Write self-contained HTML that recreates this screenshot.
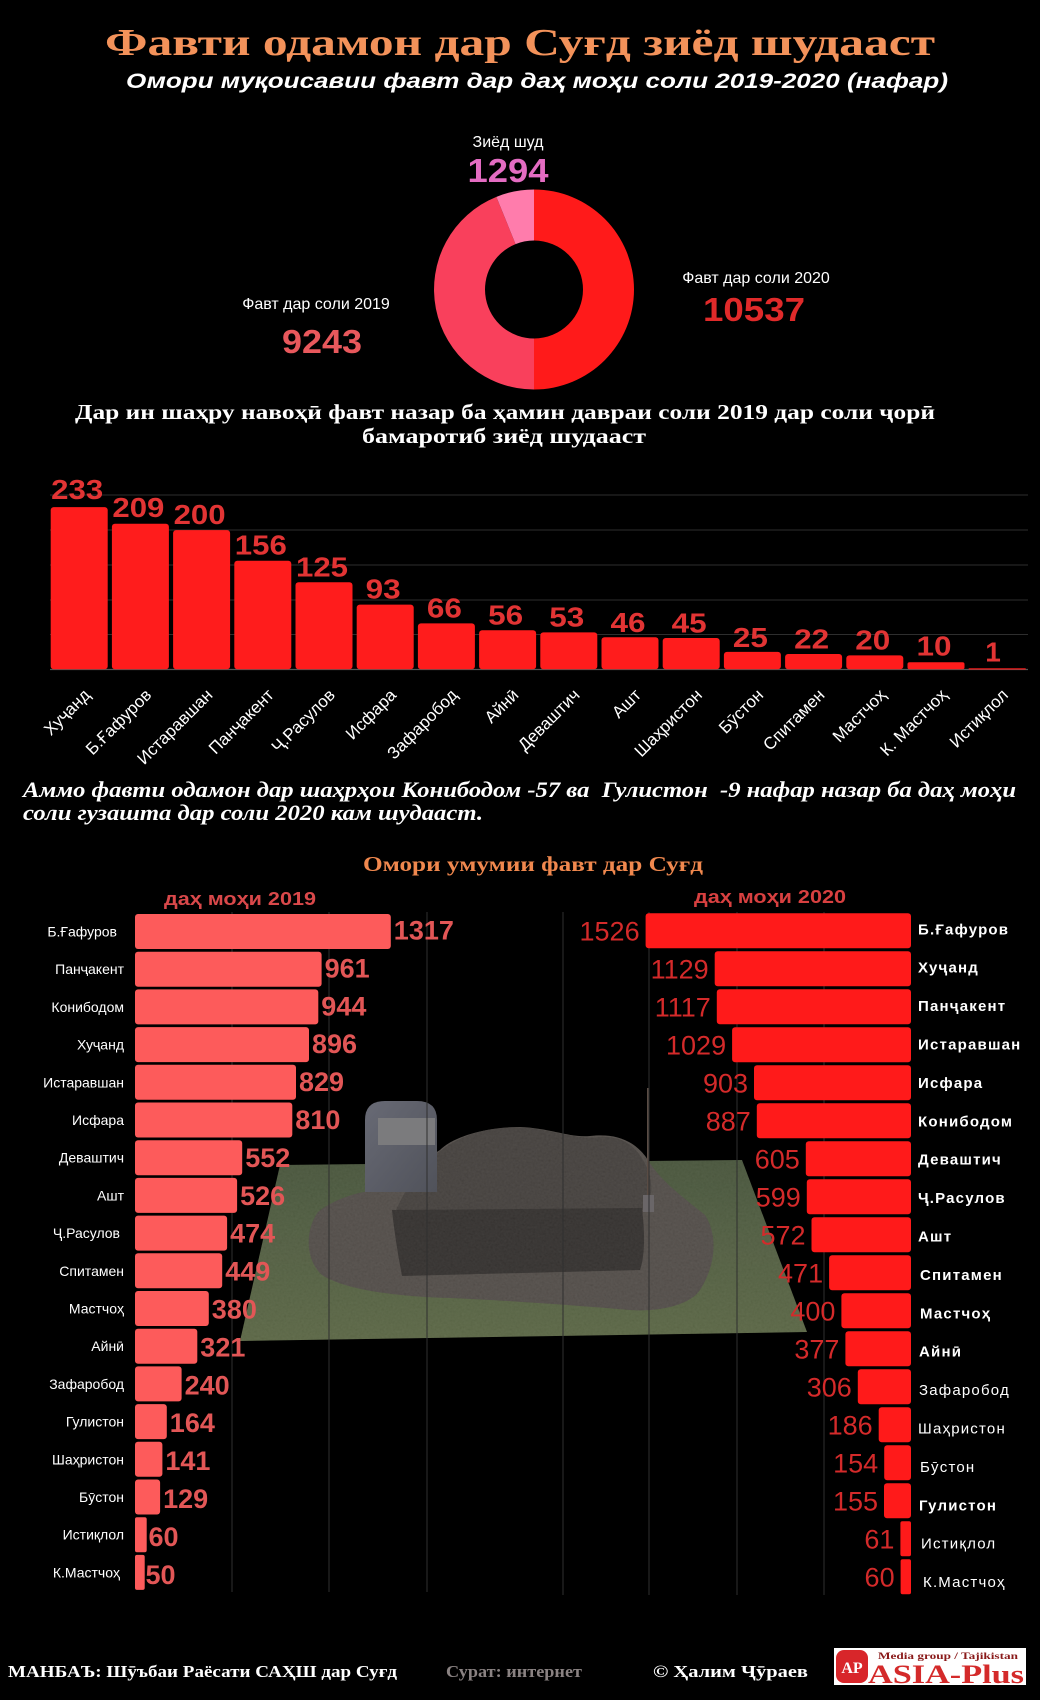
<!DOCTYPE html>
<html>
<head>
<meta charset="utf-8">
<style>
html,body{margin:0;padding:0;background:#000;}
svg{display:block}
.sans{font-family:"Liberation Sans","DejaVu Sans",sans-serif;}
.serif{font-family:"Liberation Serif","DejaVu Serif",serif;}
</style>
</head>
<body>
<svg width="1040" height="1700" viewBox="0 0 1040 1700" xmlns="http://www.w3.org/2000/svg">
<defs>
<linearGradient id="grass" x1="0" y1="0" x2="0" y2="1">
<stop offset="0" stop-color="#425035"/>
<stop offset="0.5" stop-color="#4d5a3b"/>
<stop offset="1" stop-color="#56623f"/>
</linearGradient>
<linearGradient id="stone" x1="0" y1="0" x2="1" y2="1">
<stop offset="0" stop-color="#686a75"/>
<stop offset="1" stop-color="#50525a"/>
</linearGradient>
<filter id="noise" x="0" y="0" width="100%" height="100%">
<feTurbulence type="fractalNoise" baseFrequency="0.45" numOctaves="2" seed="4"/>
<feColorMatrix type="matrix" values="0.33 0.33 0.33 0 0  0.33 0.33 0.33 0 0  0.33 0.33 0.33 0 0  0 0 0 0 1"/>
</filter>
<clipPath id="moundClip">
<path d="M318,1212 C335,1198 360,1192 375,1190 L440,1150 C455,1135 490,1127 520,1127 C550,1128 570,1138 590,1136 C615,1133 635,1140 648,1160 C660,1180 680,1195 705,1215 C718,1235 716,1265 700,1290 C690,1305 660,1312 630,1310 C570,1305 500,1300 450,1298 C400,1297 345,1290 322,1275 C305,1260 305,1230 318,1212 Z"/>
</clipPath>
<clipPath id="grassClip">
<polygon points="280,1165 742,1160 807,1332 240,1341"/>
</clipPath>
</defs>
<rect x="0" y="0" width="1040" height="1700" fill="#000"/>

<!-- Title -->
<text class="serif" x="520" y="55" text-anchor="middle" font-size="38" font-weight="bold" fill="#f3925a" textLength="830" lengthAdjust="spacingAndGlyphs">Фавти одамон дар Суғд зиёд шудааст</text>
<text class="sans" x="537" y="88" text-anchor="middle" font-size="21" font-weight="bold" font-style="italic" fill="#fff" textLength="822" lengthAdjust="spacingAndGlyphs">Омори муқоисавии фавт дар даҳ моҳи соли 2019-2020 (нафар)</text>

<!-- Donut -->
<path d="M534,189.5 A100,100 0 0 1 534,389.5 L534,338.5 A49,49 0 0 0 534,240.5 Z" fill="#ff1a1a"/>
<path d="M534,389.5 A100,100 0 0 1 496.4,196.85 L515.57,244.1 A49,49 0 0 0 534,338.5 Z" fill="#f9405c"/>
<path d="M496.4,196.85 A100,100 0 0 1 534,189.5 L534,240.5 A49,49 0 0 0 515.57,244.1 Z" fill="#ff7cac"/>

<text class="sans" x="508" y="147" text-anchor="middle" font-size="16" fill="#fff">Зиёд шуд</text>
<text class="sans" x="508" y="182" text-anchor="middle" font-size="33" font-weight="bold" fill="#e46cc2" textLength="81" lengthAdjust="spacingAndGlyphs">1294</text>
<text class="sans" x="316" y="309" text-anchor="middle" font-size="16" fill="#fff">Фавт дар соли 2019</text>
<text class="sans" x="322" y="353" text-anchor="middle" font-size="33" font-weight="bold" fill="#e8585c" textLength="80" lengthAdjust="spacingAndGlyphs">9243</text>
<text class="sans" x="756" y="283" text-anchor="middle" font-size="16" fill="#fff">Фавт дар соли 2020</text>
<text class="sans" x="754" y="321" text-anchor="middle" font-size="33" font-weight="bold" fill="#e02a2a" textLength="102" lengthAdjust="spacingAndGlyphs">10537</text>

<!-- Bar chart heading -->
<text class="serif" x="505" y="419" text-anchor="middle" font-size="21" font-weight="bold" fill="#fff" textLength="860" lengthAdjust="spacingAndGlyphs">Дар ин шаҳру навоҳӣ фавт назар ба ҳамин давраи соли 2019 дар соли ҷорӣ</text>
<text class="serif" x="504" y="443" text-anchor="middle" font-size="21" font-weight="bold" fill="#fff" textLength="284" lengthAdjust="spacingAndGlyphs">бамаротиб зиёд шудааст</text>

<!-- gridlines -->
<g stroke="#2e2e2e" stroke-width="1">
<line x1="50" y1="495" x2="1028" y2="495"/>
<line x1="50" y1="530" x2="1028" y2="530"/>
<line x1="50" y1="565" x2="1028" y2="565"/>
<line x1="50" y1="600" x2="1028" y2="600"/>
<line x1="50" y1="634.5" x2="1028" y2="634.5"/>
</g>
<line x1="50" y1="669.5" x2="1028" y2="669.5" stroke="#555" stroke-width="1.2"/>

<!-- bars -->
<g fill="#ff1c1c">
<rect x="50.7" y="507.1" width="57" height="162.2" rx="3"/>
<rect x="111.9" y="523.8" width="57" height="145.5" rx="3"/>
<rect x="173.1" y="530.1" width="57" height="139.2" rx="3"/>
<rect x="234.3" y="560.7" width="57" height="108.6" rx="3"/>
<rect x="295.5" y="582.3" width="57" height="87" rx="3"/>
<rect x="356.7" y="604.6" width="57" height="64.7" rx="3"/>
<rect x="417.9" y="623.4" width="57" height="45.9" rx="3"/>
<rect x="479.1" y="630.3" width="57" height="39" rx="3"/>
<rect x="540.3" y="632.4" width="57" height="36.9" rx="3"/>
<rect x="601.5" y="637.3" width="57" height="32" rx="3"/>
<rect x="662.7" y="638" width="57" height="31.3" rx="3"/>
<rect x="723.9" y="651.9" width="57" height="17.4" rx="3"/>
<rect x="785.1" y="654" width="57" height="15.3" rx="3"/>
<rect x="846.3" y="655.4" width="57" height="13.9" rx="3"/>
<rect x="907.5" y="662.3" width="57" height="7" rx="2"/>
<rect x="968.7" y="668.3" width="57" height="1.2"/>
</g>

<g class="sans" font-size="28" font-weight="bold" fill="#e23434" text-anchor="middle">
<text x="77.2" y="499" textLength="52" lengthAdjust="spacingAndGlyphs">233</text>
<text x="138.4" y="517" textLength="52" lengthAdjust="spacingAndGlyphs">209</text>
<text x="199.6" y="524" textLength="52" lengthAdjust="spacingAndGlyphs">200</text>
<text x="260.8" y="554.7" textLength="52" lengthAdjust="spacingAndGlyphs">156</text>
<text x="322" y="576.3" textLength="52" lengthAdjust="spacingAndGlyphs">125</text>
<text x="383.2" y="598.6" textLength="35" lengthAdjust="spacingAndGlyphs">93</text>
<text x="444.4" y="617.4" textLength="35" lengthAdjust="spacingAndGlyphs">66</text>
<text x="505.6" y="624.3" textLength="35" lengthAdjust="spacingAndGlyphs">56</text>
<text x="566.8" y="626.4" textLength="35" lengthAdjust="spacingAndGlyphs">53</text>
<text x="628" y="632" textLength="35" lengthAdjust="spacingAndGlyphs">46</text>
<text x="689.2" y="632.5" textLength="35" lengthAdjust="spacingAndGlyphs">45</text>
<text x="750.4" y="647" textLength="35" lengthAdjust="spacingAndGlyphs">25</text>
<text x="811.6" y="648.5" textLength="35" lengthAdjust="spacingAndGlyphs">22</text>
<text x="872.8" y="649.5" textLength="35" lengthAdjust="spacingAndGlyphs">20</text>
<text x="934" y="655.5" textLength="35" lengthAdjust="spacingAndGlyphs">10</text>
<text x="993" y="661.6">1</text>
</g>

<!-- rotated x labels -->
<g class="sans" font-size="17" fill="#fff" text-anchor="end">
<text x="91.2" y="696" transform="rotate(-45 91.2 696)">Хуҷанд</text>
<text x="152.4" y="696" transform="rotate(-45 152.4 696)">Б.Ғафуров</text>
<text x="213.6" y="696" transform="rotate(-45 213.6 696)">Истаравшан</text>
<text x="274.8" y="696" transform="rotate(-45 274.8 696)">Панҷакент</text>
<text x="336" y="696" transform="rotate(-45 336 696)">Ҷ.Расулов</text>
<text x="397.2" y="696" transform="rotate(-45 397.2 696)">Исфара</text>
<text x="458.4" y="696" transform="rotate(-45 458.4 696)">Зафаробод</text>
<text x="519.6" y="696" transform="rotate(-45 519.6 696)">Айнӣ</text>
<text x="580.8" y="696" transform="rotate(-45 580.8 696)">Деваштич</text>
<text x="642" y="696" transform="rotate(-45 642 696)">Ашт</text>
<text x="703.2" y="696" transform="rotate(-45 703.2 696)">Шаҳристон</text>
<text x="764.4" y="696" transform="rotate(-45 764.4 696)">Бӯстон</text>
<text x="825.6" y="696" transform="rotate(-45 825.6 696)">Спитамен</text>
<text x="886.8" y="696" transform="rotate(-45 886.8 696)">Мастчоҳ</text>
<text x="948" y="696" transform="rotate(-45 948 696)">К. Мастчоҳ</text>
<text x="1009.2" y="696" transform="rotate(-45 1009.2 696)">Истиқлол</text>
</g>

<!-- paragraph -->
<text class="serif" x="23" y="797" font-size="22" font-weight="bold" font-style="italic" fill="#fff" style="white-space:pre" textLength="993" lengthAdjust="spacingAndGlyphs">Аммо фавти одамон дар шаҳрҳои Конибодом -57 ва  Гулистон  -9 нафар назар ба даҳ моҳи</text>
<text class="serif" x="23" y="820" font-size="22" font-weight="bold" font-style="italic" fill="#fff" textLength="460" lengthAdjust="spacingAndGlyphs">соли гузашта дар соли 2020 кам шудааст.</text>

<!-- Section title -->
<text class="serif" x="533" y="871" text-anchor="middle" font-size="21" font-weight="bold" fill="#f0884e" textLength="340" lengthAdjust="spacingAndGlyphs">Омори умумии фавт дар Суғд</text>
<text class="sans" x="240" y="905" text-anchor="middle" font-size="18" font-weight="bold" fill="#d9484a" textLength="152" lengthAdjust="spacingAndGlyphs">даҳ моҳи 2019</text>
<text class="sans" x="770" y="903" text-anchor="middle" font-size="18" font-weight="bold" fill="#d84040" textLength="152" lengthAdjust="spacingAndGlyphs">даҳ моҳи 2020</text>

<!-- grave background -->
<polygon points="280,1165 742,1160 807,1332 240,1341" fill="url(#grass)"/>
<g clip-path="url(#grassClip)" opacity="0.1">
<rect x="240" y="1160" width="570" height="185" filter="url(#noise)"/>
</g>
<path d="M318,1212 C335,1198 360,1192 375,1190 L440,1150 C455,1135 490,1127 520,1127 C550,1128 570,1138 590,1136 C615,1133 635,1140 648,1160 C660,1180 680,1195 705,1215 C718,1235 716,1265 700,1290 C690,1305 660,1312 630,1310 C570,1305 500,1300 450,1298 C400,1297 345,1290 322,1275 C305,1260 305,1230 318,1212 Z" fill="#4a4540"/>
<path d="M430,1160 C460,1130 500,1125 530,1128 C560,1132 580,1140 600,1137 C625,1135 640,1150 648,1170 C655,1190 650,1205 640,1212 L395,1212 C405,1190 415,1175 430,1160 Z" fill="#3c3734"/>
<path d="M392,1210 L642,1208 C645,1235 645,1255 640,1270 L402,1276 C398,1255 394,1230 392,1210 Z" fill="#2a2624"/>
<g clip-path="url(#moundClip)" opacity="0.12">
<rect x="300" y="1120" width="420" height="200" filter="url(#noise)"/>
</g>
<path d="M365,1192 L365,1120 Q365,1101 385,1101 L417,1101 Q437,1101 437,1120 L437,1192 Z" fill="url(#stone)"/>
<rect x="378" y="1118" width="57" height="27" fill="#7b7b7d"/>
<line x1="648" y1="1088" x2="648" y2="1200" stroke="#5a4c44" stroke-width="2"/>
<rect x="643" y="1195" width="11" height="17" fill="#6a6668"/>

<!-- vertical gridlines -->
<g stroke="#2f2f2f" stroke-width="1">
<line x1="232" y1="912" x2="232" y2="1592"/>
<line x1="329" y1="912" x2="329" y2="1592"/>
<line x1="427" y1="912" x2="427" y2="1592"/>
<line x1="563" y1="912" x2="563" y2="1595"/>
<line x1="649" y1="912" x2="649" y2="1595"/>
<line x1="737" y1="912" x2="737" y2="1595"/>
<line x1="824" y1="912" x2="824" y2="1595"/>
</g>

<!-- Left chart bars -->
<g fill="#fd5b5b">
<rect x="135" y="914" width="255.8" height="35" rx="3"/>
<rect x="135" y="951.7" width="186.6" height="35" rx="3"/>
<rect x="135" y="989.4" width="183.3" height="35" rx="3"/>
<rect x="135" y="1027.1" width="174" height="35" rx="3"/>
<rect x="135" y="1064.8" width="161" height="35" rx="3"/>
<rect x="135" y="1102.5" width="157.3" height="35" rx="3"/>
<rect x="135" y="1140.2" width="107.2" height="35" rx="3"/>
<rect x="135" y="1177.9" width="102.1" height="35" rx="3"/>
<rect x="135" y="1215.6" width="92.1" height="35" rx="3"/>
<rect x="135" y="1253.3" width="87.2" height="35" rx="3"/>
<rect x="135" y="1291" width="73.8" height="35" rx="3"/>
<rect x="135" y="1328.7" width="62.3" height="35" rx="3"/>
<rect x="135" y="1366.4" width="46.6" height="35" rx="3"/>
<rect x="135" y="1404.1" width="31.8" height="35" rx="3"/>
<rect x="135" y="1441.8" width="27.4" height="35" rx="3"/>
<rect x="135" y="1479.5" width="25.1" height="35" rx="3"/>
<rect x="135" y="1517.2" width="11.7" height="35" rx="2"/>
<rect x="135" y="1554.9" width="9.7" height="35" rx="2"/>
</g>
<g class="sans" font-size="14" fill="#fff" text-anchor="end">
<text x="117" y="936.5">Б.Ғафуров</text>
<text x="124" y="974.2">Панҷакент</text>
<text x="124" y="1011.9">Конибодом</text>
<text x="124" y="1049.6">Хуҷанд</text>
<text x="124" y="1087.3">Истаравшан</text>
<text x="124" y="1125">Исфара</text>
<text x="124" y="1162.7">Деваштич</text>
<text x="124" y="1200.4">Ашт</text>
<text x="120" y="1238.1">Ҷ.Расулов</text>
<text x="124" y="1275.8">Спитамен</text>
<text x="124" y="1313.5">Мастчоҳ</text>
<text x="124" y="1351.2">Айнӣ</text>
<text x="124" y="1388.9">Зафаробод</text>
<text x="124" y="1426.6">Гулистон</text>
<text x="124" y="1464.3">Шаҳристон</text>
<text x="124" y="1502">Бӯстон</text>
<text x="124" y="1539.7">Истиқлол</text>
<text x="120" y="1577.4">К.Мастчоҳ</text>
</g>
<g class="sans" font-size="27" font-weight="bold" fill="#e25656">
<text x="393.8" y="939.5">1317</text>
<text x="324.6" y="977.4">961</text>
<text x="321.3" y="1015.3">944</text>
<text x="312" y="1053.2">896</text>
<text x="299" y="1091.1">829</text>
<text x="295.3" y="1129">810</text>
<text x="245.2" y="1166.9">552</text>
<text x="240.1" y="1204.8">526</text>
<text x="230.1" y="1242.7">474</text>
<text x="225.2" y="1280.6">449</text>
<text x="211.8" y="1318.5">380</text>
<text x="200.3" y="1356.4">321</text>
<text x="184.6" y="1394.3">240</text>
<text x="169.8" y="1432.2">164</text>
<text x="165.4" y="1470.1">141</text>
<text x="163.1" y="1508">129</text>
<text x="148.5" y="1545.9">60</text>
<text x="145.5" y="1583.8">50</text>
</g>

<!-- Right chart bars -->
<g fill="#ff1a1a">
<rect x="645.6" y="913.3" width="265.4" height="35" rx="3"/>
<rect x="714.7" y="951.3" width="196.3" height="35" rx="3"/>
<rect x="716.8" y="989.3" width="194.2" height="35" rx="3"/>
<rect x="732.1" y="1027.3" width="178.9" height="35" rx="3"/>
<rect x="754" y="1065.3" width="157" height="35" rx="3"/>
<rect x="756.8" y="1103.3" width="154.2" height="35" rx="3"/>
<rect x="805.8" y="1141.3" width="105.2" height="35" rx="3"/>
<rect x="806.8" y="1179.3" width="104.2" height="35" rx="3"/>
<rect x="811.5" y="1217.3" width="99.5" height="35" rx="3"/>
<rect x="829.1" y="1255.3" width="81.9" height="35" rx="3"/>
<rect x="841.4" y="1293.3" width="69.6" height="35" rx="3"/>
<rect x="845.4" y="1331.3" width="65.6" height="35" rx="3"/>
<rect x="857.8" y="1369.3" width="53.2" height="35" rx="3"/>
<rect x="878.7" y="1407.3" width="32.3" height="35" rx="3"/>
<rect x="884.2" y="1445.3" width="26.8" height="35" rx="3"/>
<rect x="884" y="1483.3" width="27" height="35" rx="3"/>
<rect x="900.4" y="1521.3" width="10.6" height="35" rx="2"/>
<rect x="900.6" y="1559.3" width="10.4" height="35" rx="2"/>
</g>
<g class="sans" font-size="27" fill="#d42a2a" text-anchor="end">
<text x="639.6" y="940.3">1526</text>
<text x="708.7" y="978.3">1129</text>
<text x="710.8" y="1016.3">1117</text>
<text x="726.1" y="1054.3">1029</text>
<text x="748" y="1092.3">903</text>
<text x="750.8" y="1130.3">887</text>
<text x="799.8" y="1168.3">605</text>
<text x="800.8" y="1206.3">599</text>
<text x="805.5" y="1244.3">572</text>
<text x="823.1" y="1282.3">471</text>
<text x="835.4" y="1320.3">400</text>
<text x="839.4" y="1358.3">377</text>
<text x="851.8" y="1396.3">306</text>
<text x="872.7" y="1434.3">186</text>
<text x="878.2" y="1472.3">154</text>
<text x="878" y="1510.3">155</text>
<text x="894.4" y="1548.3">61</text>
<text x="894.6" y="1586.3">60</text>
</g>
<g class="sans" font-size="15" fill="#fff" letter-spacing="1.2">
<text x="918" y="934.3" font-weight="bold">Б.Ғафуров</text>
<text x="918" y="972.7" font-weight="bold">Хуҷанд</text>
<text x="918" y="1011.1" font-weight="bold">Панҷакент</text>
<text x="918" y="1049.5" font-weight="bold">Истаравшан</text>
<text x="918" y="1087.9" font-weight="bold">Исфара</text>
<text x="918" y="1126.3" font-weight="bold">Конибодом</text>
<text x="918" y="1164.7" font-weight="bold">Деваштич</text>
<text x="918" y="1203.1" font-weight="bold">Ҷ.Расулов</text>
<text x="918" y="1241.5" font-weight="bold">Ашт</text>
<text x="920" y="1279.9" font-weight="bold">Спитамен</text>
<text x="920" y="1318.3" font-weight="bold">Мастчоҳ</text>
<text x="919" y="1356.7" font-weight="bold">Айнӣ</text>
<text x="919" y="1395.1">Зафаробод</text>
<text x="918" y="1433.5">Шаҳристон</text>
<text x="920" y="1471.9">Бӯстон</text>
<text x="919" y="1510.3" font-weight="bold">Гулистон</text>
<text x="921" y="1548.7">Истиқлол</text>
<text x="923" y="1587.1">К.Мастчоҳ</text>
</g>

<!-- Footer -->
<text class="serif" x="8" y="1677" font-size="17" font-weight="bold" fill="#fff" textLength="389" lengthAdjust="spacingAndGlyphs">МАНБАЪ: Шӯъбаи Раёсати САҲШ дар Суғд</text>
<text class="serif" x="446" y="1677" font-size="17" font-weight="bold" fill="#8a8282" textLength="136" lengthAdjust="spacingAndGlyphs">Сурат: интернет</text>
<text class="serif" x="653" y="1677" font-size="17" font-weight="bold" fill="#fff" textLength="155" lengthAdjust="spacingAndGlyphs">© Ҳалим Ҷӯраев</text>

<rect x="834" y="1648" width="192" height="37" fill="#fff"/>
<rect x="836" y="1650" width="32" height="33" rx="8" fill="#d8262a"/>
<text class="serif" x="852" y="1673" text-anchor="middle" font-size="16" font-weight="bold" fill="#fff">AP</text>
<text class="serif" x="878" y="1659" font-size="9" font-weight="bold" fill="#8a1a1a" textLength="140" lengthAdjust="spacingAndGlyphs">Media group / Tajikistan</text>
<text class="serif" x="868" y="1683" font-size="26" font-weight="bold" fill="#d42a2a" textLength="156" lengthAdjust="spacingAndGlyphs">ASIA-Plus</text>
</svg>
</body>
</html>
